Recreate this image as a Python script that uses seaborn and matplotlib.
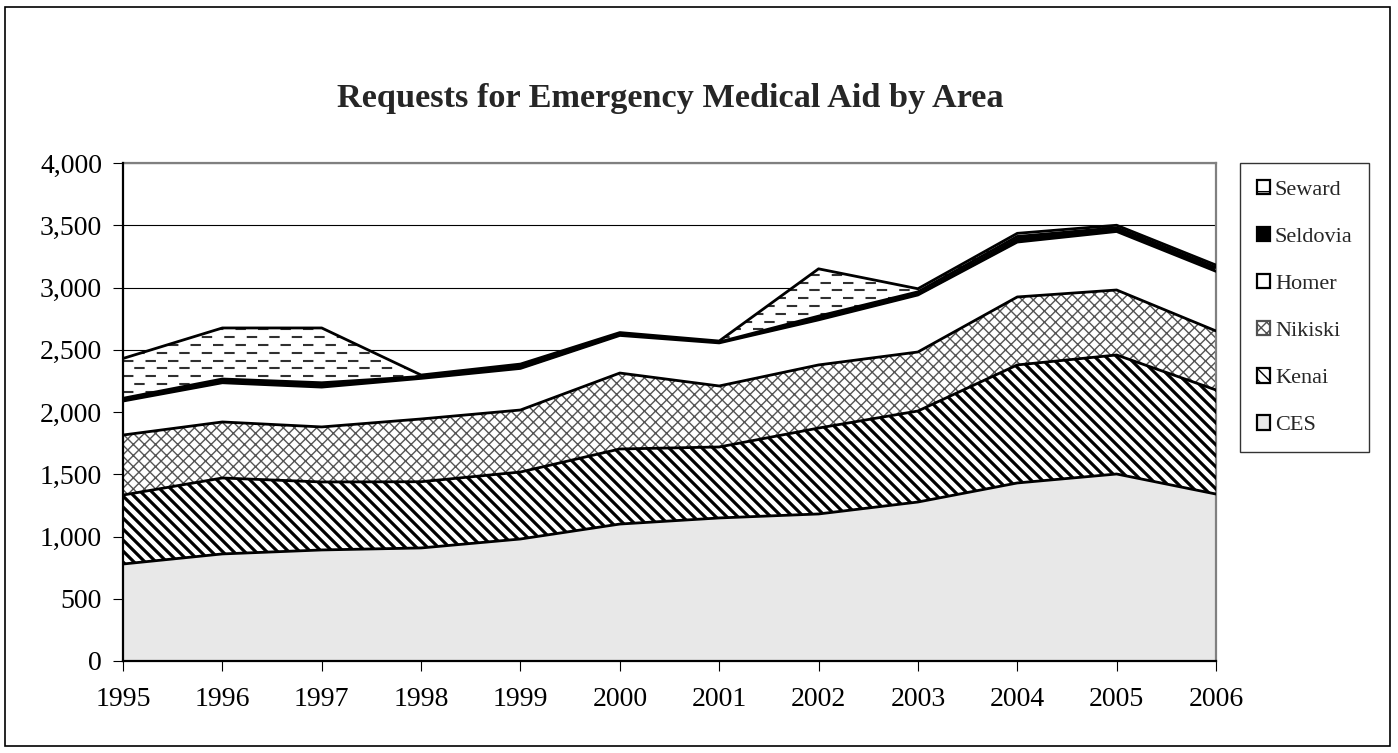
import matplotlib
matplotlib.use("Agg")
import matplotlib.pyplot as plt
import matplotlib as mpl
from matplotlib.patches import Patch, Rectangle
from matplotlib.collections import LineCollection
from matplotlib.transforms import Affine2D
from matplotlib.ticker import FuncFormatter, MultipleLocator
import numpy as np
import pandas as pd
import seaborn as sns

# ---- data ----
years = [1995, 1996, 1997, 1998, 1999, 2000, 2001, 2002, 2003, 2004, 2005, 2006]
ces = [779, 860, 892, 908, 980, 1100, 1149, 1181, 1277, 1430, 1502, 1341]
kenai = [554, 610, 546, 532, 538, 603, 570, 690, 731, 948, 956, 836]
nikiski = [482, 450, 442, 504, 498, 610, 490, 507, 474, 546, 522, 474]
homer = [273, 315, 320, 326, 334, 302, 346, 362, 458, 441, 470, 479]
seldovia = [22, 30, 35, 15, 20, 13, 7, 30, 25, 45, 30, 30]
seward = [320, 410, 440, 12, 15, 10, 8, 380, 25, 25, 20, 20]
series_names = ["CES", "Kenai", "Nikiski", "Homer", "Seldovia", "Seward"]
title_text = "Requests for Emergency Medical Aid by Area"

sns.set_theme(style="white")
plt.rcParams['font.family'] = ['Liberation Serif', 'DejaVu Serif']

FW, FH = 1398, 753
fig = plt.figure(figsize=(FW / 100, FH / 100), dpi=100)
L, R, T, B = 123, 1216, 163, 661
ax = fig.add_axes([L / FW, 1 - B / FH, (R - L) / FW, (B - T) / FH])
W_px, H_px = R - L, B - T

values = [ces, kenai, nikiski, homer, seldovia, seward]
cum = np.cumsum(np.array(values, dtype=float), axis=0)
x = np.array(years, dtype=float)

styles = {
    "CES": dict(facecolor="#e8e8e8", edgecolor="#e8e8e8", hatch=None, hlw=1.0),
    "Kenai": dict(facecolor="white", edgecolor="white", hatch=None, hlw=1.0),
    "Nikiski": dict(facecolor="white", edgecolor="#555555", hatch="xxx", hlw=1.0),
    "Homer": dict(facecolor="white", edgecolor="white", hatch=None, hlw=1.0),
    "Seldovia": dict(facecolor="black", edgecolor="black", hatch=None, hlw=1.0),
    "Seward": dict(facecolor="white", edgecolor="white", hatch=None, hlw=1.0),
}

polys = {}
for i, name in enumerate(series_names):
    lower = cum[i - 1] if i > 0 else np.zeros_like(x)
    st = styles[name]
    with mpl.rc_context({'hatch.linewidth': st['hlw']}):
        p = ax.fill_between(x, lower, cum[i], facecolor=st['facecolor'],
                            edgecolor=st['edgecolor'], hatch=st['hatch'],
                            linewidth=0, zorder=2)
    polys[name] = p

pix = Affine2D().scale(1 / W_px, 1 / H_px) + ax.transAxes

# diagonal stripe texture for Kenai, clipped to its area
kp = polys["Kenai"].get_paths()[0]
segs = [[(c, H_px), (c + H_px, 0)] for c in np.arange(-H_px, W_px + H_px, 11.0)]
stripes = LineCollection(segs, colors="black", linewidths=2.3, transform=pix,
                         zorder=3)
ax.add_collection(stripes)
stripes.set_clip_path(kp, ax.transData)

# dashed texture for Seward, clipped to its area
sp = polys["Seward"].get_paths()[0]
rows = np.arange(4.0, H_px, 7.8)
for k, r in enumerate(rows):
    off = 0 if k % 2 == 0 else 5.4
    lc = LineCollection([[(0, r), (W_px, r)]], colors="#303030", linewidths=1.5,
                        linestyles=[(off, (5.0, 5.8))], transform=pix, zorder=3)
    ax.add_collection(lc)
    lc.set_clip_path(sp, ax.transData)

# boundaries drawn with seaborn
long = pd.DataFrame({
    "year": np.tile(x, len(series_names)),
    "total": cum.ravel(),
    "series": np.repeat(series_names, len(years)),
})
sns.lineplot(data=long, x="year", y="total", hue="series",
             palette={n: "black" for n in series_names}, linewidth=2.0,
             legend=False, ax=ax, zorder=4, estimator=None)

ax.set_xlim(1995, 2006)
ax.set_ylim(0, 4000)
ax.set_xticks(years)
ax.set_xticklabels([str(y) for y in years])
ax.yaxis.set_major_locator(MultipleLocator(500))
ax.yaxis.set_major_formatter(FuncFormatter(lambda v, p: f"{int(v):,}"))
ax.grid(axis="y", color="black", linewidth=0.8, zorder=1)
ax.set_axisbelow(True)
ax.set_xlabel("")
ax.set_ylabel("")
ax.tick_params(axis="both", labelsize=20, colors="black", direction="out",
               length=7, width=0.8)
ax.tick_params(axis="x", pad=12)
ax.tick_params(axis="y", pad=8)
ax.tick_params(left=True, bottom=True)
for s in ["left", "bottom"]:
    ax.spines[s].set_color("black")
    ax.spines[s].set_linewidth(1.6)
    ax.spines[s].set_zorder(6)
for s in ["top", "right"]:
    ax.spines[s].set_color("#808080")
    ax.spines[s].set_linewidth(1.6)

fig.text(670 / FW, 1 - 98 / FH, title_text, ha="center", va="center",
         fontsize=24.7, fontweight="bold")

# legend
handles = []
with mpl.rc_context({'hatch.linewidth': 1.2}):
    for name in reversed(series_names):
        st = styles[name]
        if name == "Seward":
            h = Patch(facecolor="white", edgecolor="black", hatch="-", linewidth=1.6)
        elif name == "Nikiski":
            h = Patch(facecolor="white", edgecolor="#505050", hatch="xxx", linewidth=1.6)
        elif name == "Kenai":
            h = Patch(facecolor="white", edgecolor="black", hatch="\\\\\\", linewidth=1.6)
        else:
            h = Patch(facecolor=st['facecolor'], edgecolor="black", linewidth=1.6)
        handles.append(h)
leg = fig.legend(handles, list(reversed(series_names)), loc="upper left",
                 bbox_to_anchor=(1240 / FW, 1 - 163 / FH), fontsize=16,
                 frameon=True, fancybox=False, edgecolor="black",
                 handlelength=0.62, handleheight=0.62, handletextpad=0.2,
                 labelspacing=1.22, borderpad=0.75, borderaxespad=0)
leg.get_frame().set_linewidth(1.0)

fig.patches.append(Rectangle((5 / FW, 1 - 746 / FH), 1385 / FW, 739 / FH,
                             transform=fig.transFigure, fill=False,
                             edgecolor="black", linewidth=1.2))

fig.savefig("out.png", dpi=100, facecolor="white")
